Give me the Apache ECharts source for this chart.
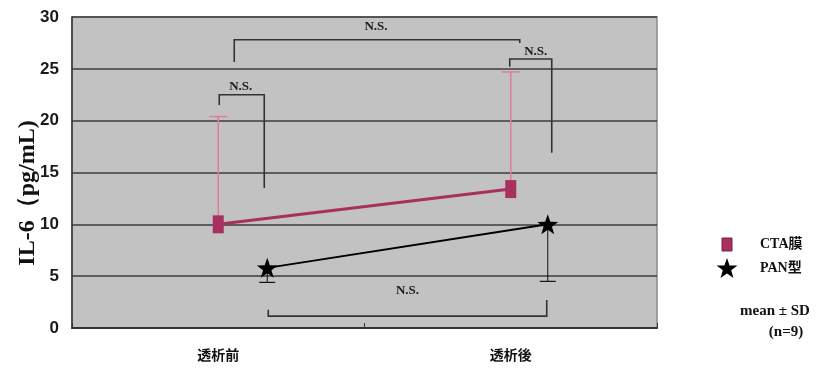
<!DOCTYPE html>
<html>
<head>
<meta charset="utf-8">
<script src="https://cdn.jsdelivr.net/npm/echarts@6/dist/echarts.min.js"></script>
<style>
  html, body { margin: 0; padding: 0; background: #ffffff; }
  #chart { width: 832px; height: 370px; }
</style>
</head>
<body>
<div id="chart"></div>
<script>
// Categories and measured IL-6 values (mean and SD end)
const categories = ['透析前', '透析後'];
const ctaMean = [10.0, 13.4];
const ctaUpper = [20.4, 24.7];
const panMean = [5.8, 10.0];
const panLower = [4.4, 4.5];
const yTicks = [0, 5, 10, 15, 20, 25, 30];
const seriesNames = ['CTA膜', 'PAN型'];

// Brackets for the significance marks: y level of the bar and end of each leg (data units)
const bracketLabel = 'N.S.';
const bracketLevels = [27.8, 25.95, 22.5, 1.15];
const bracketLeg1 = [25.65, 25.2, 21.5, 1.75];
const bracketLeg2 = [27.5, 16.9, 13.5, 2.7];

// horizontal pixel shift of the PAN markers away from the category centre
const PAN_SHIFT = [49, 37];

const CTA_COLOR = '#a8305f';
const CTA_BAR = '#e27a9c';

const chart = echarts.init(document.getElementById('chart'));

function starPath(cx, cy, r) {
  const pts = [];
  for (let k = 0; k < 10; k++) {
    const a = -Math.PI / 2 + k * Math.PI / 5;
    const rr = k % 2 === 0 ? r : r * 0.4;
    pts.push([cx + rr * Math.cos(a), cy + rr * Math.sin(a)]);
  }
  return pts;
}

const option = {
  animation: false,
  backgroundColor: '#ffffff',
  grid: {
    left: 72, right: 175, top: 17, bottom: 42,
    show: true, backgroundColor: '#c2c2c2', borderColor: '#8a8a8a', borderWidth: 1.5
  },
  xAxis: {
    type: 'category',
    data: categories,
    boundaryGap: true,
    axisLine: { lineStyle: { color: '#333', width: 2 } },
    axisTick: { show: true, inside: true, length: 5, lineStyle: { color: '#333' } },
    axisLabel: {
      margin: 20, color: '#111', fontSize: 14, fontWeight: 'bold',
      fontFamily: '"Noto Sans CJK JP", sans-serif'
    }
  },
  yAxis: {
    type: 'value',
    min: 0, max: 30, interval: 5,
    axisLine: { show: true, lineStyle: { color: '#333', width: 1.5 } },
    axisTick: { show: false },
    axisLabel: {
      margin: 13, color: '#1a1a1a', fontSize: 17, fontWeight: 'bold',
      fontFamily: '"Liberation Sans Narrow", "Liberation Sans", sans-serif',
      formatter: v => (yTicks.indexOf(v) >= 0 ? String(v) : '')
    },
    splitLine: { lineStyle: { color: '#3c3c3c', width: 1.6 } }
  },
  series: [
    {
      // CTA upper SD whiskers
      type: 'custom',
      z: 2,
      data: ctaMean.map((m, i) => [i, m, ctaUpper[i]]),
      renderItem: (params, api) => {
        const p0 = api.coord([api.value(0), api.value(1)]);
        const p1 = api.coord([api.value(0), api.value(2)]);
        const st = { stroke: CTA_BAR, lineWidth: 1.5 };
        return {
          type: 'group',
          children: [
            { type: 'line', shape: { x1: p0[0], y1: p0[1], x2: p1[0], y2: p1[1] }, style: st },
            { type: 'line', shape: { x1: p1[0] - 9, y1: p1[1], x2: p1[0] + 9, y2: p1[1] }, style: st }
          ]
        };
      }
    },
    {
      name: seriesNames[0],
      type: 'line',
      z: 3,
      data: ctaMean,
      symbol: 'rect',
      symbolSize: [11, 18],
      itemStyle: { color: CTA_COLOR },
      lineStyle: { color: CTA_COLOR, width: 3 }
    },
    {
      // PAN line, lower SD whiskers and star markers
      name: seriesNames[1],
      type: 'custom',
      z: 4,
      data: panMean.map((m, i) => [i, m, panLower[i]]),
      renderItem: (params, api) => {
        const i = api.value(0);
        const p = api.coord([i, api.value(1)]);
        const q = api.coord([i, api.value(2)]);
        const x = p[0] + PAN_SHIFT[i];
        const kids = [];
        if (i > 0) {
          const pp = api.coord([i - 1, panMean[i - 1]]);
          kids.push({
            type: 'line',
            shape: { x1: pp[0] + PAN_SHIFT[i - 1], y1: pp[1], x2: x, y2: p[1] },
            style: { stroke: '#000', lineWidth: 2 }
          });
        }
        kids.push({ type: 'line', shape: { x1: x, y1: p[1], x2: x, y2: q[1] }, style: { stroke: '#111', lineWidth: 1 } });
        kids.push({ type: 'line', shape: { x1: x - 8, y1: q[1], x2: x + 8, y2: q[1] }, style: { stroke: '#111', lineWidth: 1.2 } });
        kids.push({ type: 'polygon', shape: { points: starPath(x, p[1] + 1, 11) }, style: { fill: '#000' } });
        return { type: 'group', children: kids };
      }
    }
  ]
};

chart.setOption(option);

// Significance brackets placed through the grid's own coordinate conversion
function px(cat, shift, val) {
  const p = chart.convertToPixel({ gridIndex: 0 }, [cat, val]);
  return [p[0] + shift, p[1]];
}
const bracketEnds = [
  [[0, 16], [1, 9]],
  [[1, -1], [1, 41]],
  [[0, 1], [0, 46]],
  [[0, 50], [1, 36]]
];
const labelLift = [13, 7, 8, 25];
const labelShift = [-1, 5, -1, 0];
const graphics = [];
bracketLevels.forEach((lv, k) => {
  const a = px(bracketEnds[k][0][0], bracketEnds[k][0][1], lv);
  const b = px(bracketEnds[k][1][0], bracketEnds[k][1][1], lv);
  const l1 = px(bracketEnds[k][0][0], bracketEnds[k][0][1], bracketLeg1[k]);
  const l2 = px(bracketEnds[k][1][0], bracketEnds[k][1][1], bracketLeg2[k]);
  graphics.push({
    type: 'polyline', z: 10,
    shape: { points: [[l1[0], l1[1]], a, b, [l2[0], l2[1]]] },
    style: { stroke: '#333', lineWidth: 1.6, fill: null }
  });
  graphics.push({
    type: 'text', z: 11,
    x: (a[0] + b[0]) / 2 + labelShift[k], y: a[1] - labelLift[k],
    style: {
      text: bracketLabel, fill: '#1a1a1a', font: 'bold 13px "Liberation Serif", serif',
      align: 'center', verticalAlign: 'middle'
    }
  });
});

// Axis title
graphics.push({
  type: 'text', x: 28, y: 193, rotation: Math.PI / 2,
  style: {
    text: 'IL-6（pg/mL)', fill: '#111', font: 'bold 24px "Liberation Serif", serif',
    align: 'center', verticalAlign: 'middle'
  }
});

// Legend and sample note
graphics.push({ type: 'rect', shape: { x: 722, y: 238, width: 10, height: 13 }, style: { fill: CTA_COLOR, stroke: '#7a2045', lineWidth: 1 } });
graphics.push({ type: 'polygon', shape: { points: starPath(727, 269, 11) }, style: { fill: '#000' } });
graphics.push({ type: 'text', x: 760, y: 244, style: { text: seriesNames[0], fill: '#111', font: 'bold 14px "Liberation Serif", "Noto Sans CJK JP", serif', verticalAlign: 'middle' } });
graphics.push({ type: 'text', x: 760, y: 268, style: { text: seriesNames[1], fill: '#111', font: 'bold 14px "Liberation Serif", "Noto Sans CJK JP", serif', verticalAlign: 'middle' } });
graphics.push({ type: 'text', x: 775, y: 311, style: { text: 'mean ± SD', fill: '#111', font: 'bold 15px "Liberation Serif", serif', align: 'center', verticalAlign: 'middle' } });
graphics.push({ type: 'text', x: 786, y: 332, style: { text: '(n=9)', fill: '#111', font: 'bold 15px "Liberation Serif", serif', align: 'center', verticalAlign: 'middle' } });

chart.setOption({ graphic: graphics });
</script>
</body>
</html>
